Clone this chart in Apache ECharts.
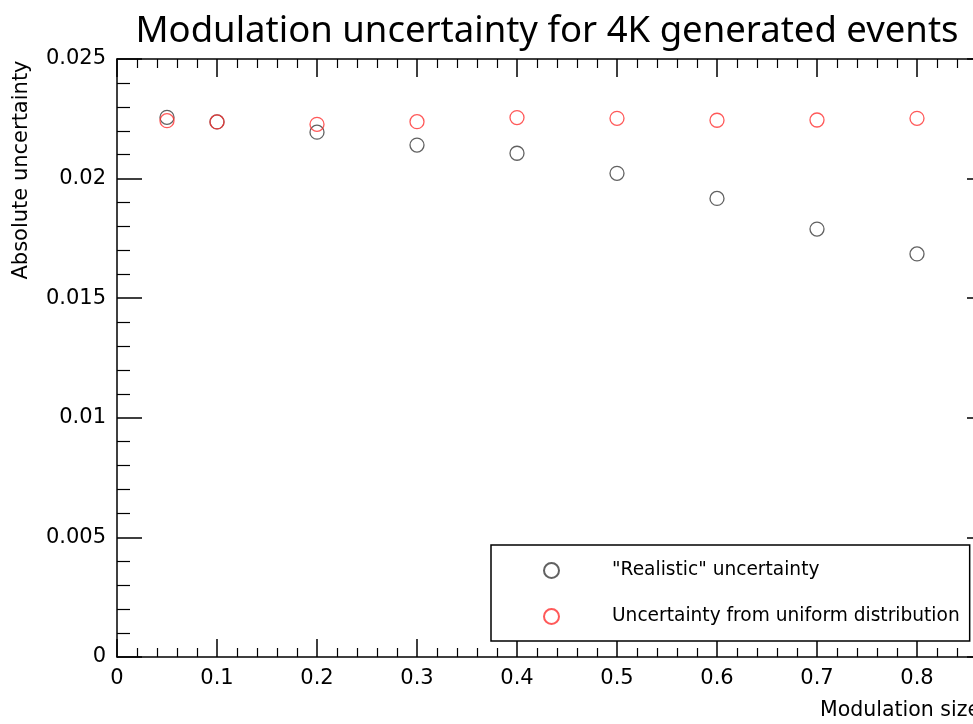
<!DOCTYPE html>
<html>
<head>
<meta charset="utf-8">
<script src="https://cdn.jsdelivr.net/npm/echarts@6/dist/echarts.min.js"></script>
<style>html,body{margin:0;padding:0;background:#fff;}#c{width:973px;height:724px;}</style>
</head>
<body>
<div id="c"></div>
<script>
const titleText = 'Modulation uncertainty for 4K generated events';
const xName = 'Modulation size';
const yName = 'Absolute uncertainty';
const modulation = [0.05, 0.1, 0.2, 0.3, 0.4, 0.5, 0.6, 0.7, 0.8];
const realistic = [0.02256, 0.02237, 0.02194, 0.02140, 0.02106, 0.02022, 0.01917, 0.01789, 0.01685];
const uniform = [0.02242, 0.02237, 0.02227, 0.02238, 0.02255, 0.02252, 0.02244, 0.02245, 0.02252];
const seriesNames = ['"Realistic" uncertainty', 'Uncertainty from uniform distribution'];

const chart = echarts.init(document.getElementById('c'), null, {renderer: 'canvas'});
const font = 'DejaVu Sans, Liberation Sans, sans-serif';
const pair = (xs, ys) => xs.map((x, i) => [x, ys[i]]);

const xCommon = {
  type: 'value', min: 0, max: 0.875, interval: 0.1,
  axisLine: {show: true, onZero: false, lineStyle: {color: '#000', width: 1.5}},
  axisTick: {show: true, inside: true, length: 18, lineStyle: {color: '#000', width: 1.5}},
  minorTick: {show: true, splitNumber: 5, length: 9, lineStyle: {color: '#000', width: 1.2}},
  splitLine: {show: false}, minorSplitLine: {show: false}
};
const yCommon = {
  type: 'value', min: 0, max: 0.025, interval: 0.005,
  axisLine: {show: true, onZero: false, lineStyle: {color: '#000', width: 1.5}},
  axisTick: {show: true, inside: true, length: 25, lineStyle: {color: '#000', width: 1.5}},
  minorTick: {show: true, splitNumber: 5, length: 13, lineStyle: {color: '#000', width: 1.2}},
  splitLine: {show: false}, minorSplitLine: {show: false}
};

chart.setOption({
  animation: false,
  backgroundColor: '#fff',
  title: {
    text: titleText, left: 542, textAlign: 'center', top: 8,
    textStyle: {fontFamily: 'Noto Sans, sans-serif', fontWeight: 'normal', fontSize: 36.5, color: '#000'}
  },
  grid: {left: 117, top: 59, right: -19, bottom: 67, containLabel: false, outerBoundsMode: 'none'},
  xAxis: [
    Object.assign({}, xCommon, {
      position: 'bottom',
      axisLabel: {show: true, margin: 11, fontSize: 21, color: '#000', fontFamily: font, showMaxLabel: false,
        formatter: v => String(Math.round(v * 10) / 10)}
    }),
    Object.assign({}, xCommon, {position: 'top', axisLabel: {show: false}})
  ],
  yAxis: [
    Object.assign({}, yCommon, {
      position: 'left',
      axisLabel: {show: true, margin: 11, fontSize: 21, color: '#000', fontFamily: font,
        formatter: v => String(parseFloat(v.toFixed(3)))}
    }),
    Object.assign({}, yCommon, {position: 'right', axisLabel: {show: false}})
  ],
  legend: {
    orient: 'vertical', left: 491, top: 545,
    padding: [16, 10, 15, 52], itemGap: 27, itemWidth: 15, itemHeight: 15,
    borderColor: '#000', borderWidth: 1.5, backgroundColor: '#fff',
    textStyle: {fontSize: 18.6, color: '#000', fontFamily: font, padding: [0, 0, 0, 48]},
    data: seriesNames
  },
  series: [
    {
      name: seriesNames[0], type: 'scatter', xAxisIndex: 0, yAxisIndex: 0,
      symbol: 'circle', symbolSize: 14,
      itemStyle: {color: 'rgba(0,0,0,0)', borderColor: '#3a3a3a', borderWidth: 1.3},
      data: pair(modulation, realistic), z: 2
    },
    {
      name: seriesNames[1], type: 'scatter', xAxisIndex: 0, yAxisIndex: 0,
      symbol: 'circle', symbolSize: 14,
      itemStyle: {color: 'rgba(0,0,0,0)', borderColor: '#ff3030', borderWidth: 1.3},
      data: pair(modulation, uniform), z: 3
    }
  ],
  graphic: [
    {type: 'text', x: 22, y: 170, rotation: Math.PI / 2,
      style: {text: yName, fontSize: 21, fontFamily: font, fill: '#000', align: 'center', verticalAlign: 'middle'}},
    {type: 'text', x: 820, y: 711,
      style: {text: xName, fontSize: 20.5, fontFamily: font, fill: '#000', align: 'left', verticalAlign: 'middle'}}
  ]
});
</script>
</body>
</html>
